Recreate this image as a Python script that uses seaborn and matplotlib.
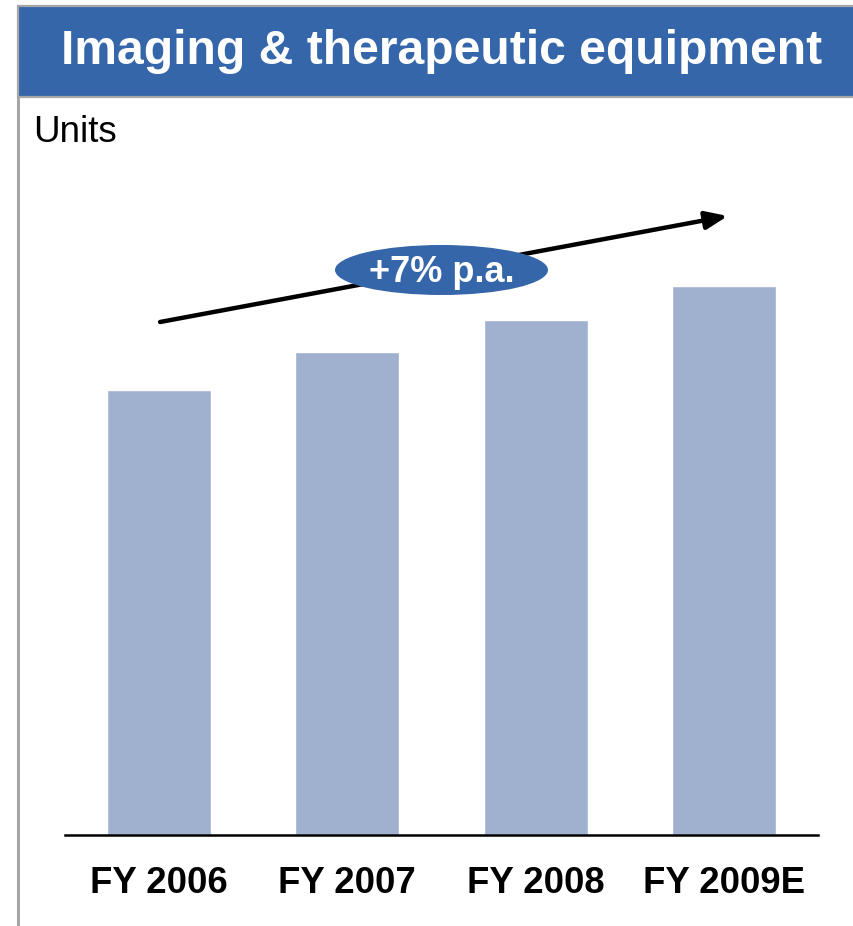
import matplotlib
matplotlib.use("Agg")
import matplotlib.pyplot as plt
from matplotlib.patches import Rectangle, Ellipse
import seaborn as sns
import pandas as pd

# Data
categories = ["FY 2006", "FY 2007", "FY 2008", "FY 2009E"]
units = [44.5, 48.3, 51.5, 54.9]
title = "Imaging & therapeutic equipment"
unit_label = "Units"
growth_label = "+7% p.a."

HEADER_BLUE = "#3566AA"
BAR_BLUE = "#9FB1CF"
BORDER_GRAY = "#A6A6A6"

sns.set_theme(style="white")
plt.rcParams["font.family"] = ["Liberation Sans", "DejaVu Sans"]

W, H = 854, 926
fig = plt.figure(figsize=(W / 100, H / 100), dpi=100)

def fx(px):
    return px / W

def fy(py):
    return 1 - py / H

# Header banner with gray frame
fig.patches.append(Rectangle((fx(18), fy(97)), fx(W + 10 - 18), (97 - 6) / H,
                             transform=fig.transFigure, facecolor=HEADER_BLUE,
                             edgecolor=BORDER_GRAY, linewidth=1.6, zorder=1))
fig.lines.append(plt.Line2D([fx(18), fx(18)], [fy(97), 0], transform=fig.transFigure,
                            color=BORDER_GRAY, linewidth=2.2, zorder=1))
fig.text(fx(442), fy(52), title, color="white", fontsize=34.6, fontweight="bold",
         ha="center", va="center")
fig.text(fx(33), fy(133), unit_label, color="black", fontsize=26.5, ha="left", va="center")

# Chart axes: baseline at y=835 px, category pitch 188 px
ax = fig.add_axes([fx(65), 1 - 835 / H, fx(818 - 65), (835 - 160) / H])
df = pd.DataFrame({"category": categories, "units": units})
sns.barplot(data=df, x="category", y="units", color=BAR_BLUE, saturation=1,
            width=0.553, ax=ax, zorder=2)
ax.set_xlim(-0.5, 3.5)
ax.set_ylim(0, 67.5)
ax.set_xlabel("")
ax.set_ylabel("")
ax.set_yticks([])
for s in ["top", "right", "left"]:
    ax.spines[s].set_visible(False)
ax.spines["bottom"].set_color("black")
ax.spines["bottom"].set_linewidth(1.8)
ax.tick_params(axis="x", length=0, pad=22.5)
for lbl in ax.get_xticklabels():
    lbl.set_fontsize(26.3)
    lbl.set_fontweight("bold")
    lbl.set_color("black")
ax.set_facecolor("none")

# Growth arrow and CAGR bubble
ax.annotate("", xy=(3.02, 61.9), xytext=(0.005, 51.3),
            arrowprops=dict(arrowstyle="-|>,head_length=1.1,head_width=0.45",
                            color="black", lw=3.2, shrinkA=0, shrinkB=0),
            zorder=5, annotation_clip=False)
ell = Ellipse((fx(441.5), fy(270)), fx(548 - 335), 50 / H,
              transform=fig.transFigure, facecolor=HEADER_BLUE,
              edgecolor="none", zorder=6)
fig.patches.append(ell)
fig.text(fx(441.5), fy(272), growth_label, color="white", fontsize=26,
         fontweight="bold", ha="center", va="center", zorder=7)

fig.savefig("out.png", dpi=100)
